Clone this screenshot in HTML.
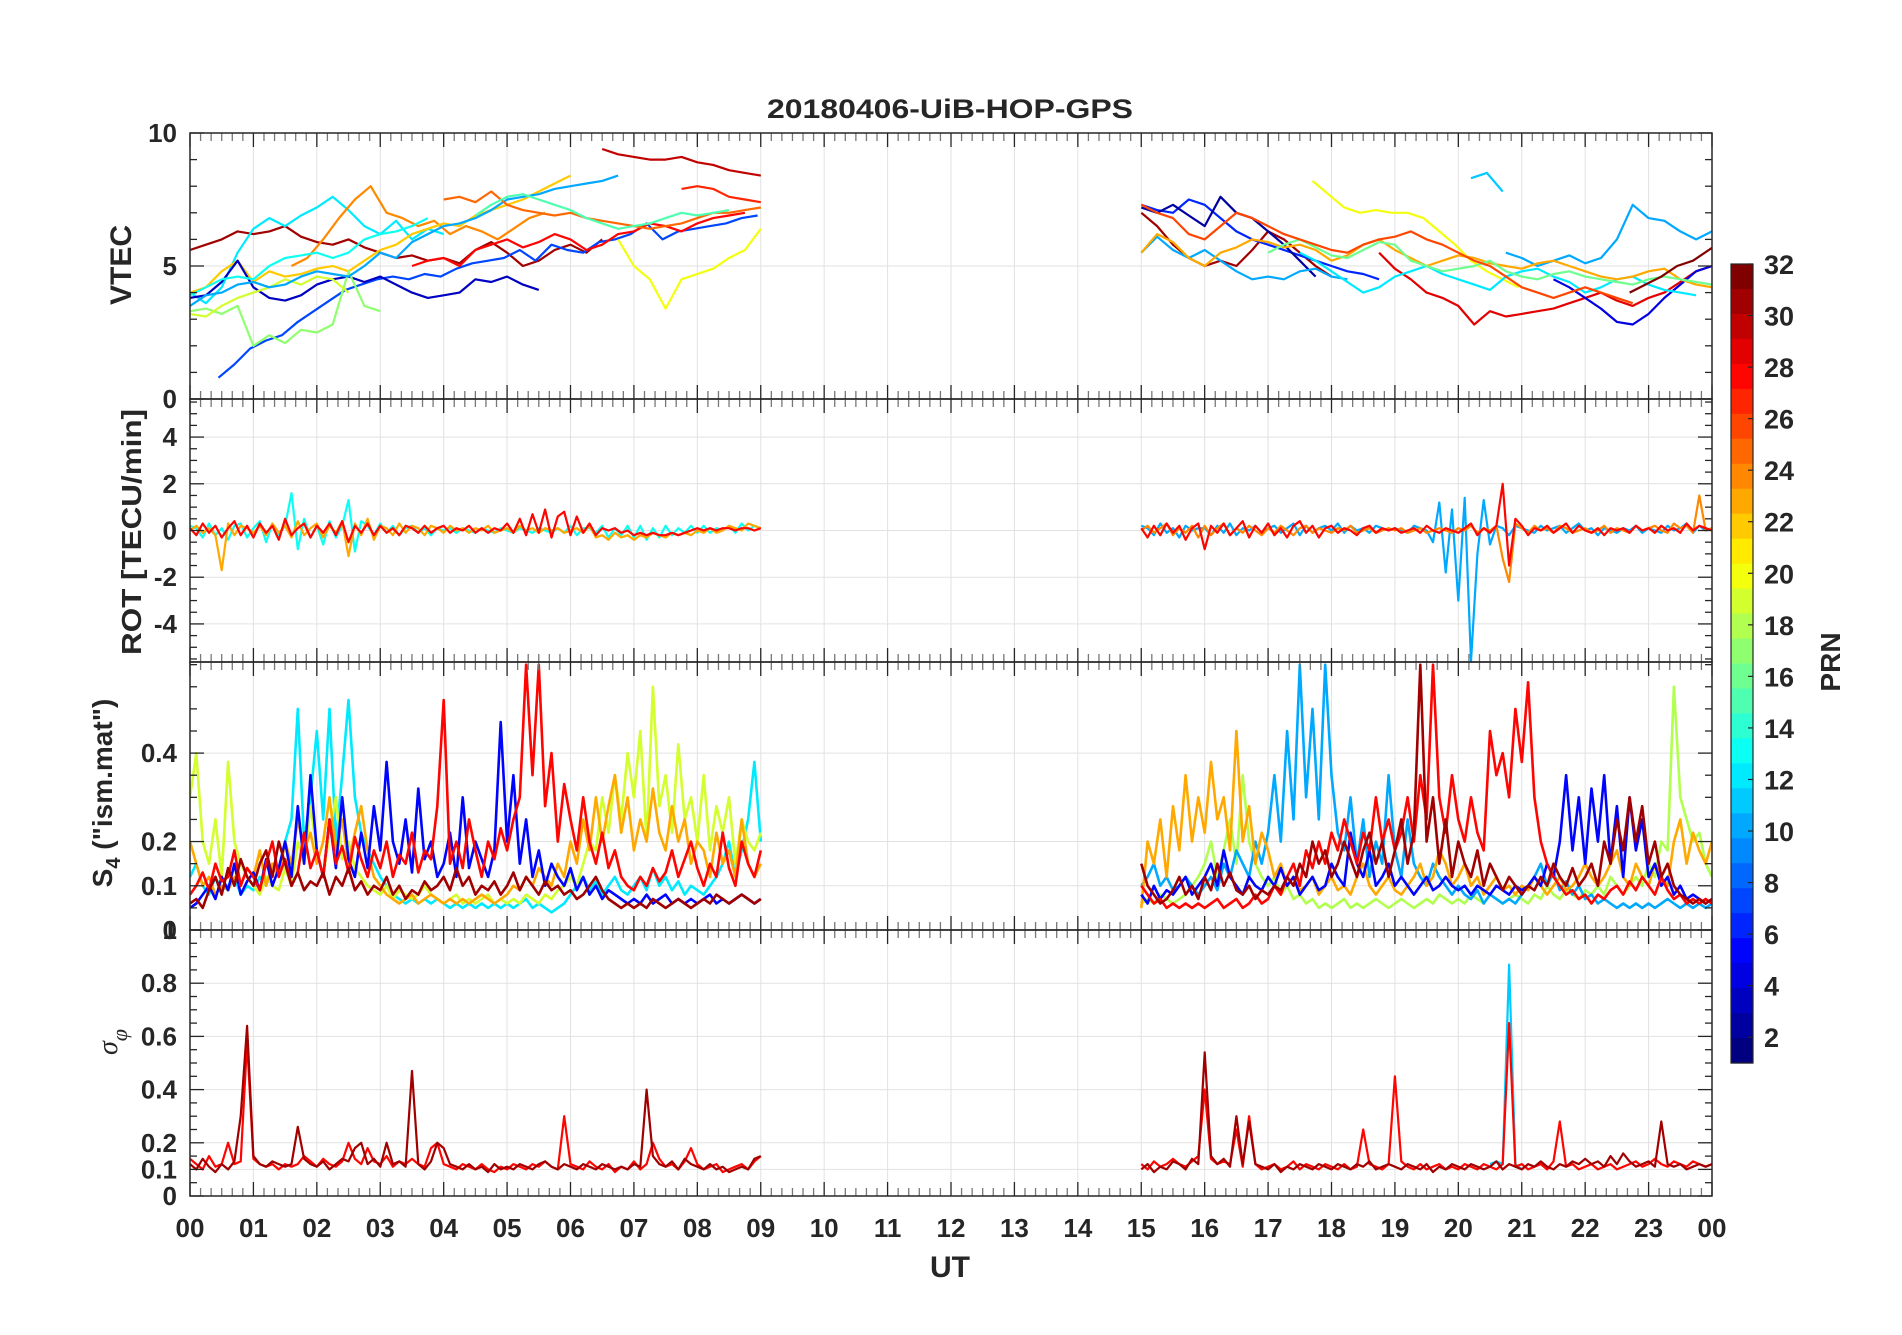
<!DOCTYPE html>
<html><head><meta charset="utf-8"><style>
body{margin:0;background:#fff}
svg text{font-family:"Liberation Sans",Arial,sans-serif;fill:#262626}
</style></head><body>
<svg id="fig" width="1902" height="1330" viewBox="0 0 1902 1330" xmlns="http://www.w3.org/2000/svg">
<rect width="1902" height="1330" fill="#fff"/>
<text x="950" y="118" text-anchor="middle" font-size="27" font-weight="bold" textLength="366" lengthAdjust="spacingAndGlyphs">20180406-UiB-HOP-GPS</text>
<g id="axes"></g>
<g id="marks"></g>
<g id="frames"></g>
<text transform="translate(131,265) rotate(-90)" text-anchor="middle" font-size="30" font-weight="bold">VTEC</text>
<text transform="translate(141,532) rotate(-90)" text-anchor="middle" font-size="28" font-weight="bold" textLength="246" lengthAdjust="spacingAndGlyphs">ROT [TECU/min]</text>
<text transform="translate(112,793) rotate(-90)" text-anchor="middle" font-size="28" font-weight="bold">S<tspan font-size="20" dy="8">4</tspan><tspan dy="-8"> ("ism.mat")</tspan></text>
<text transform="translate(117,1042) rotate(-90)" text-anchor="middle" font-size="28" font-style="italic" style="font-family:'Liberation Serif',serif">σ<tspan font-size="22" dy="10">φ</tspan></text>
<text x="950" y="1277" text-anchor="middle" font-size="30" font-weight="bold">UT</text>
<g id="cbar"></g>
<text transform="translate(1840,662) rotate(-90)" text-anchor="middle" font-size="28" font-weight="bold">PRN</text>
</svg>
<script>
// ---------- data ----------
const xTickLabels = ["00","01","02","03","04","05","06","07","08","09","10","11","12","13","14","15","16","17","18","19","20","21","22","23","00"];
const vtecTicks = [0,5,10];
const rotTicks = [-4,-2,0,2,4];
const s4Ticks = [0,0.1,0.2,0.4];
const sigTicks = [0,0.1,0.2,0.4,0.6,0.8,1];
const sigTickLabels = ["0","0.1","0.2","0.4","0.6","0.8","1"];
const prnTicks = [2,4,6,8,10,12,14,16,18,20,22,24,26,28,30,32];

const vtecDt = 0.25;
const vtecPrn = [31,12,24,22,7,3,17,19,10,20,28,30,27,25,15,13, 31,6,2,10,20,29,11,10,4,12,23,16,26,32];
const vtecStart = [0,0,1.6,0,0.45,0,0,0,0,6.75,3.5,6.5,7.75,4,4.5,0, 15,15,15,15,17.7,18.75,20.2,20.75,21.5,17.5,15,17,15,22.7];
const vtecVals = [
[5.6,5.8,6.0,6.3,6.2,6.3,6.5,6.1,5.9,5.8,6.0,5.7,5.5,5.3,5.4,5.2,5.3,5.1,5.6,5.9,5.5,5.0,5.2,5.6,5.8,5.5,6.0],
[4.0,3.6,4.2,5.5,6.4,6.8,6.5,6.9,7.2,7.6,7.1,6.5,6.2,6.7,6.0,6.4,6.2],
[5.0,5.3,6.0,6.8,7.5,8.0,7.0,6.8,6.5,6.7,6.2,6.5,6.3,6.0,6.4,6.8,7.0],
[4.0,4.2,4.8,5.2,4.4,4.8,4.6,4.7,4.9,5.0,4.8,5.2,5.6,5.8,6.2,6.4,6.6,6.5,6.9,7.1,7.3,7.5,7.8,8.1,8.4],
[0.8,1.3,1.9,2.2,2.4,2.9,3.3,3.7,4.1,4.3,4.5,4.6,4.5,4.7,4.6,4.9,5.1,5.2,5.3,5.6,5.2,5.8,5.6,5.5,5.9,6.0,6.2,6.6,6.0,6.3,6.4,6.5,6.6,6.8,6.9],
[3.8,3.9,4.4,5.2,4.2,3.8,3.7,3.9,4.3,4.5,4.6,4.4,4.6,4.3,4.0,3.8,3.9,4.0,4.5,4.4,4.6,4.3,4.1],
[3.3,3.4,3.2,3.5,2.0,2.4,2.1,2.6,2.5,2.8,4.8,3.5,3.3],
[3.2,3.1,3.5,3.8,4.0,4.2,4.5,4.3,4.6,4.5,4.0],
[3.5,3.9,4.0,4.3,4.4,4.2,4.3,4.6,4.8,4.7,4.6,5.0,5.5,5.3,5.9,6.2,6.5,6.6,6.8,7.1,7.5,7.6,7.7,7.9,8.0,8.1,8.2,8.4],
[6.0,5.0,4.5,3.4,4.5,4.7,4.9,5.3,5.6,6.4],
[5.0,5.2,5.3,5.0,5.6,5.8,6.0,5.7,5.9,6.2,6.0,5.6,5.8,6.2,6.3,6.6,6.5,6.3,6.6,6.8,6.9,7.0],
[9.4,9.2,9.1,9.0,9.0,9.1,8.9,8.8,8.6,8.5,8.4],
[7.9,8.0,7.9,7.6,7.5,7.4],
[7.5,7.6,7.4,7.8,7.3,7.1,7.0,6.9,7.0,6.8,6.7,6.6,6.5,6.4,6.5,6.6,6.8,7.0,7.0,7.1,7.2],
[6.9,7.3,7.6,7.7,7.5,7.3,7.1,6.8,6.6,6.4,6.5,6.6,6.8,7.0,6.9,7.0,7.1],
[3.9,4.2,4.5,4.6,4.5,5.0,5.3,5.4,5.5,5.3,5.5,6.0,6.2,6.3,6.5,6.8],
[7.0,6.5,5.8,5.3,5.0,5.2,5.0,5.6,6.3,6.0,5.5,5.0,4.6],
[7.3,7.1,7.0,7.5,7.3,6.8,6.3,6.0,5.8,5.6,5.4,5.2,5.0,4.8,4.7,4.5],
[7.2,7.0,7.3,6.9,6.5,7.6,7.0,6.8,6.3,5.8,5.2,4.6],
[5.5,6.1,5.6,5.3,5.6,5.2,4.8,4.5,4.6,4.5,4.8,4.9,4.6,4.5],
[8.2,7.7,7.2,7.0,7.1,7.0,7.0,6.8,6.3,5.8,5.2,4.8,4.5,4.2],
[5.5,4.9,4.5,4.0,3.8,3.5,2.8,3.3,3.1,3.2,3.3,3.4,3.6,3.8,4.0,3.7,3.5,3.8,4.0,4.4,4.8,5.0,5.3,5.8,6.0],
[8.3,8.5,7.8],
[5.5,5.3,5.0,5.2,5.4,5.1,5.3,6.0,7.3,6.8,6.7,6.3,6.0,6.3,6.5],
[4.5,4.2,3.8,3.4,2.9,2.8,3.2,3.8,4.3,4.8,5.0],
[5.5,5.2,4.8,4.4,4.0,4.2,4.6,4.8,5.0,4.7,4.5,4.3,4.1,4.6,4.8,4.9,4.6,4.4,4.0,4.2,4.5,4.6,4.3,4.1,4.0,3.9],
[5.5,6.2,5.9,5.3,5.0,5.5,5.7,6.0,5.9,5.7,5.8,5.6,5.2,5.4,5.8,6.0,5.6,5.3,5.0,5.2,5.4,5.3,5.1,5.0,4.9,5.1,5.2,5.0,4.8,4.6,4.5,4.6,4.8,4.9,4.5,4.3,4.2],
[5.5,5.8,6.0,5.7,5.4,5.3,5.6,5.9,5.8,5.2,5.0,4.8,4.9,5.0,5.2,4.8,4.6,4.5,4.7,4.8,4.6,4.5,4.4,4.3,4.5,4.6,4.5,4.4,4.3],
[7.3,7.0,6.8,6.2,6.0,6.5,7.0,6.8,6.5,6.2,6.0,5.8,5.6,5.5,5.8,6.0,6.1,6.3,6.0,5.8,5.5,5.2,5.0,4.6,4.2,4.0,3.8,4.0,4.2,4.0,3.8,3.6],
[4.0,4.3,4.6,5.0,5.2,5.6,6.0,6.1]
];

const rotDt = 0.1;
const rotPrn = [13,23,28, 10,24,28];
const rotStart = [0,0,0, 15,15,15];
const rotVals = [
[0.2,0.1,-0.3,0.3,-0.2,0.1,-0.4,0.2,0.3,-0.3,0.1,0.4,-0.5,0.3,-0.2,0.2,1.6,-0.8,0.5,-0.3,0.2,-0.6,0.4,-0.3,0.2,1.3,-0.9,0.4,0.2,-0.2,0.3,-0.1,0.2,-0.2,0.1,0.2,-0.1,0.1,-0.2,0.1,0.0,0.1,-0.1,0.1,0.0,-0.1,0.1,0.0,-0.1,0.1,0.0,-0.1,0.1,0.0,-0.1,0.1,0.0,-0.1,0.1,-0.1,0.2,-0.2,0.1,0.1,-0.1,0.2,-0.3,0.1,-0.2,0.2,-0.3,0.2,-0.4,0.1,-0.3,0.2,-0.2,0.1,-0.1,0.2,-0.1,0.2,-0.1,0.1,0.0,0.2,-0.1,0.3,0.0,0.2,0.1],
[0.0,0.2,-0.1,0.1,-0.2,-1.7,0.3,-0.2,0.2,0.1,-0.1,0.2,-0.2,0.3,-0.1,0.2,-0.3,0.4,-0.2,0.1,0.3,-0.3,0.2,-0.1,0.4,-1.1,0.3,-0.2,0.5,-0.4,0.2,0.1,-0.2,0.3,-0.1,0.2,0.1,-0.2,0.2,0.1,-0.1,0.2,0.0,0.1,-0.1,0.1,0.0,0.2,-0.1,0.0,0.1,-0.1,0.2,0.0,0.1,-0.1,0.1,0.0,0.1,-0.1,0.0,0.1,-0.1,0.2,-0.3,-0.2,-0.4,-0.1,-0.3,-0.2,-0.4,-0.2,-0.3,-0.1,-0.2,-0.3,-0.1,-0.2,-0.1,-0.2,0.0,-0.1,0.1,-0.1,0.0,0.2,0.1,0.0,0.3,0.2,0.1],
[0.1,-0.2,0.3,-0.1,0.2,-0.3,0.1,0.4,-0.2,0.2,-0.3,0.3,-0.1,0.2,-0.4,0.5,-0.2,0.1,0.3,-0.3,0.2,-0.1,0.3,-0.2,0.4,-0.5,0.2,-0.1,0.3,-0.2,0.2,-0.1,0.1,-0.2,0.2,0.1,-0.1,0.2,-0.1,0.1,0.2,-0.1,0.1,0.0,0.2,-0.1,0.1,-0.1,0.1,0.0,0.3,-0.1,0.5,-0.2,0.7,-0.1,0.9,-0.3,0.6,0.8,-0.2,0.6,-0.1,0.3,-0.2,0.1,0.0,0.1,-0.1,0.0,-0.2,-0.1,-0.2,-0.1,-0.2,-0.2,-0.1,-0.2,-0.1,0.0,0.1,0.0,0.1,0.0,0.1,0.1,0.0,0.1,0.1,0.0,0.1],
[0.2,0.1,-0.2,0.3,-0.1,0.1,-0.3,0.2,0.0,0.1,0.1,-0.2,0.2,-0.1,0.3,-0.2,0.1,0.0,0.2,-0.1,0.1,0.2,-0.1,0.1,0.3,-0.2,0.2,-0.1,0.1,0.2,0.0,0.3,-0.1,0.2,0.0,0.1,-0.1,0.2,0.1,0.0,0.1,0.0,-0.1,0.2,0.1,0.0,-0.5,1.2,-1.8,0.9,-3.0,1.4,-5.6,-1.0,1.3,-0.6,0.2,0.1,-0.2,0.2,0.1,0.0,-0.1,0.2,0.0,0.1,0.2,-0.1,0.1,0.3,0.0,0.1,-0.2,0.1,0.0,-0.1,0.1,0.0,0.2,-0.1,0.1,0.0,-0.1,0.2,0.0,0.1,0.3,-0.1,0.2,0.0,0.1],
[0.0,0.2,-0.1,0.1,0.3,-0.2,0.1,-0.1,0.2,-0.3,0.2,-0.2,0.1,0.3,-0.2,0.1,-0.1,0.2,0.0,-0.2,0.1,-0.1,0.2,0.0,-0.2,0.1,0.2,-0.1,0.1,0.0,-0.1,0.1,0.0,0.2,-0.1,0.0,0.1,-0.1,0.0,0.1,0.0,0.1,-0.1,0.0,0.1,-0.1,0.0,0.1,0.0,-0.1,0.1,0.0,0.2,-0.1,0.1,0.0,0.2,-1.2,-2.2,0.3,0.1,-0.1,0.2,0.0,0.1,-0.1,0.2,0.1,-0.1,0.0,0.1,-0.1,0.0,0.2,-0.1,0.1,0.0,-0.1,0.2,0.0,0.1,0.2,0.0,-0.1,0.3,0.1,0.2,-0.1,1.5,0.0,0.1],
[0.1,-0.3,0.2,-0.2,0.3,-0.1,0.2,-0.4,0.1,0.3,-0.8,0.2,-0.1,0.3,-0.2,0.1,0.4,-0.3,0.2,-0.1,0.3,-0.2,0.1,-0.3,0.2,0.4,-0.1,0.2,-0.3,0.1,0.2,-0.1,0.1,0.0,-0.2,0.1,0.2,-0.1,0.1,0.0,0.1,-0.1,0.0,0.1,-0.1,0.2,0.0,-0.1,0.1,0.0,-0.1,0.1,0.3,-0.2,0.1,-0.1,0.2,2.0,-1.5,0.5,0.2,-0.2,0.1,0.0,0.2,-0.1,0.1,0.3,-0.1,0.2,0.0,-0.1,0.1,-0.2,0.1,0.0,0.1,-0.1,0.2,0.0,0.1,-0.1,0.2,0.0,0.1,-0.1,0.3,0.0,0.2,0.1,0.0]
];

const s4Dt = 0.1;
const s4Prn = [12,19,23,5,28,31, 18,10,23,5,28,31];
const s4Start = [0,0,0,0,0,0, 15,15,15,15,15,15];
const s4Vals = [
[0.12,0.15,0.1,0.08,0.12,0.09,0.1,0.12,0.08,0.1,0.09,0.12,0.1,0.15,0.12,0.2,0.25,0.5,0.2,0.3,0.45,0.25,0.5,0.2,0.35,0.52,0.3,0.22,0.18,0.15,0.12,0.1,0.08,0.07,0.06,0.07,0.06,0.07,0.06,0.07,0.06,0.05,0.06,0.05,0.06,0.05,0.06,0.05,0.06,0.05,0.06,0.05,0.06,0.07,0.05,0.06,0.05,0.04,0.05,0.06,0.08,0.1,0.12,0.09,0.11,0.08,0.1,0.12,0.09,0.08,0.1,0.12,0.09,0.14,0.1,0.12,0.09,0.11,0.08,0.1,0.09,0.08,0.1,0.12,0.15,0.2,0.12,0.18,0.25,0.38,0.2],
[0.3,0.4,0.2,0.15,0.25,0.12,0.38,0.2,0.15,0.12,0.1,0.08,0.12,0.1,0.09,0.14,0.1,0.2,0.15,0.28,0.18,0.12,0.22,0.3,0.16,0.2,0.14,0.12,0.1,0.09,0.08,0.1,0.07,0.09,0.08,0.07,0.08,0.1,0.08,0.07,0.06,0.07,0.08,0.06,0.07,0.06,0.07,0.08,0.06,0.07,0.06,0.07,0.06,0.08,0.07,0.06,0.08,0.07,0.09,0.1,0.12,0.1,0.15,0.2,0.18,0.3,0.22,0.35,0.25,0.4,0.3,0.45,0.2,0.55,0.28,0.35,0.22,0.42,0.25,0.3,0.2,0.35,0.18,0.28,0.22,0.3,0.15,0.25,0.2,0.18,0.22],
[0.2,0.15,0.1,0.12,0.08,0.1,0.09,0.12,0.1,0.14,0.12,0.18,0.1,0.15,0.12,0.2,0.15,0.25,0.18,0.22,0.15,0.2,0.3,0.18,0.25,0.15,0.22,0.28,0.18,0.12,0.1,0.08,0.07,0.06,0.07,0.08,0.06,0.07,0.08,0.07,0.06,0.07,0.06,0.07,0.06,0.07,0.08,0.07,0.06,0.07,0.08,0.1,0.09,0.12,0.1,0.14,0.12,0.1,0.15,0.12,0.2,0.15,0.25,0.18,0.3,0.2,0.28,0.35,0.22,0.3,0.18,0.25,0.2,0.32,0.22,0.18,0.28,0.2,0.25,0.15,0.2,0.18,0.12,0.22,0.15,0.18,0.12,0.25,0.15,0.12,0.15],
[0.05,0.06,0.08,0.1,0.07,0.12,0.09,0.15,0.08,0.11,0.13,0.09,0.16,0.1,0.14,0.2,0.12,0.28,0.15,0.35,0.18,0.12,0.25,0.14,0.3,0.16,0.12,0.22,0.14,0.28,0.18,0.38,0.2,0.15,0.25,0.13,0.32,0.16,0.2,0.12,0.15,0.22,0.12,0.3,0.14,0.2,0.16,0.12,0.18,0.47,0.2,0.35,0.15,0.25,0.12,0.18,0.1,0.15,0.12,0.1,0.14,0.09,0.12,0.08,0.1,0.07,0.09,0.08,0.07,0.06,0.07,0.06,0.08,0.06,0.07,0.08,0.06,0.07,0.06,0.07,0.06,0.07,0.08,0.06,0.07,0.06,0.07,0.08,0.07,0.06,0.07],
[0.08,0.1,0.13,0.09,0.15,0.11,0.12,0.18,0.1,0.14,0.12,0.09,0.15,0.2,0.12,0.16,0.1,0.13,0.22,0.14,0.18,0.12,0.25,0.15,0.19,0.13,0.21,0.16,0.12,0.18,0.14,0.2,0.12,0.17,0.15,0.22,0.13,0.18,0.16,0.28,0.52,0.15,0.2,0.14,0.25,0.18,0.12,0.2,0.16,0.23,0.18,0.25,0.3,0.6,0.35,0.6,0.28,0.4,0.2,0.33,0.25,0.18,0.3,0.2,0.15,0.22,0.14,0.18,0.12,0.1,0.09,0.12,0.1,0.14,0.11,0.13,0.18,0.12,0.16,0.2,0.14,0.1,0.15,0.12,0.22,0.14,0.1,0.2,0.15,0.12,0.18],
[0.06,0.07,0.05,0.09,0.12,0.08,0.14,0.1,0.16,0.12,0.1,0.15,0.18,0.12,0.2,0.15,0.1,0.13,0.09,0.11,0.1,0.13,0.08,0.12,0.1,0.14,0.09,0.11,0.08,0.1,0.09,0.12,0.08,0.1,0.07,0.09,0.08,0.11,0.09,0.1,0.12,0.09,0.14,0.1,0.12,0.08,0.1,0.09,0.11,0.08,0.1,0.13,0.09,0.12,0.1,0.08,0.11,0.09,0.1,0.08,0.09,0.07,0.08,0.1,0.12,0.09,0.07,0.06,0.05,0.06,0.05,0.06,0.05,0.07,0.06,0.05,0.06,0.07,0.06,0.05,0.06,0.07,0.06,0.08,0.07,0.06,0.07,0.08,0.07,0.06,0.07],
[0.06,0.07,0.06,0.08,0.07,0.06,0.07,0.08,0.1,0.12,0.15,0.2,0.12,0.18,0.25,0.15,0.35,0.2,0.15,0.12,0.1,0.12,0.08,0.1,0.07,0.08,0.06,0.07,0.05,0.06,0.05,0.06,0.07,0.05,0.06,0.05,0.06,0.07,0.06,0.05,0.06,0.07,0.06,0.05,0.06,0.07,0.06,0.08,0.07,0.06,0.07,0.06,0.08,0.07,0.06,0.08,0.07,0.06,0.07,0.08,0.07,0.06,0.08,0.07,0.1,0.08,0.07,0.09,0.08,0.07,0.09,0.08,0.1,0.08,0.12,0.1,0.08,0.1,0.12,0.1,0.15,0.12,0.2,0.18,0.55,0.3,0.25,0.2,0.22,0.15,0.12],
[0.1,0.12,0.15,0.1,0.12,0.09,0.1,0.12,0.1,0.08,0.1,0.12,0.09,0.15,0.12,0.18,0.15,0.12,0.2,0.15,0.22,0.35,0.2,0.45,0.25,0.6,0.3,0.5,0.25,0.6,0.35,0.22,0.18,0.3,0.15,0.25,0.12,0.2,0.15,0.35,0.18,0.12,0.25,0.15,0.12,0.1,0.15,0.12,0.1,0.08,0.1,0.08,0.07,0.09,0.06,0.08,0.07,0.06,0.07,0.06,0.08,0.1,0.12,0.15,0.1,0.13,0.09,0.11,0.08,0.1,0.07,0.08,0.06,0.07,0.06,0.05,0.06,0.05,0.06,0.05,0.06,0.05,0.06,0.07,0.06,0.05,0.06,0.05,0.06,0.05,0.06],
[0.05,0.2,0.15,0.25,0.12,0.28,0.18,0.35,0.2,0.3,0.22,0.38,0.25,0.3,0.18,0.45,0.2,0.28,0.15,0.22,0.18,0.12,0.15,0.1,0.12,0.09,0.1,0.12,0.08,0.1,0.12,0.09,0.1,0.08,0.12,0.15,0.1,0.08,0.1,0.12,0.09,0.08,0.1,0.12,0.15,0.1,0.12,0.18,0.15,0.1,0.12,0.15,0.1,0.12,0.08,0.1,0.12,0.09,0.1,0.08,0.1,0.09,0.12,0.1,0.08,0.1,0.12,0.09,0.1,0.12,0.15,0.12,0.1,0.12,0.15,0.18,0.12,0.1,0.15,0.12,0.1,0.15,0.12,0.1,0.2,0.25,0.15,0.22,0.18,0.15,0.2],
[0.08,0.06,0.1,0.07,0.09,0.08,0.1,0.12,0.08,0.1,0.12,0.15,0.1,0.18,0.12,0.1,0.08,0.12,0.1,0.09,0.12,0.1,0.14,0.1,0.12,0.08,0.1,0.12,0.09,0.1,0.15,0.12,0.1,0.22,0.15,0.12,0.18,0.1,0.12,0.15,0.1,0.12,0.1,0.08,0.1,0.12,0.09,0.1,0.12,0.1,0.09,0.1,0.08,0.1,0.09,0.08,0.1,0.09,0.08,0.1,0.09,0.1,0.12,0.1,0.15,0.12,0.2,0.35,0.18,0.3,0.15,0.32,0.2,0.35,0.15,0.28,0.12,0.3,0.18,0.25,0.12,0.15,0.1,0.12,0.08,0.1,0.07,0.08,0.07,0.06,0.07],
[0.1,0.08,0.06,0.07,0.05,0.06,0.05,0.06,0.05,0.06,0.05,0.06,0.07,0.05,0.06,0.07,0.05,0.06,0.08,0.06,0.07,0.1,0.08,0.12,0.15,0.1,0.18,0.14,0.2,0.15,0.22,0.18,0.25,0.2,0.15,0.22,0.18,0.3,0.2,0.25,0.18,0.22,0.3,0.2,0.35,0.25,0.6,0.3,0.22,0.35,0.25,0.2,0.3,0.22,0.18,0.45,0.35,0.4,0.3,0.5,0.38,0.56,0.3,0.2,0.15,0.12,0.1,0.08,0.09,0.07,0.08,0.06,0.08,0.07,0.09,0.1,0.08,0.11,0.09,0.12,0.1,0.08,0.12,0.09,0.07,0.08,0.06,0.07,0.06,0.07,0.06],
[0.15,0.1,0.08,0.06,0.07,0.09,0.12,0.08,0.1,0.07,0.12,0.09,0.15,0.1,0.13,0.09,0.08,0.1,0.07,0.09,0.08,0.1,0.09,0.12,0.1,0.15,0.12,0.2,0.15,0.18,0.12,0.15,0.2,0.16,0.12,0.18,0.22,0.15,0.2,0.12,0.18,0.25,0.15,0.22,0.6,0.2,0.3,0.15,0.25,0.12,0.2,0.15,0.12,0.18,0.1,0.15,0.12,0.09,0.12,0.1,0.08,0.1,0.09,0.12,0.1,0.15,0.12,0.1,0.14,0.1,0.12,0.15,0.1,0.2,0.15,0.25,0.18,0.3,0.2,0.28,0.15,0.2,0.12,0.15,0.1,0.08,0.07,0.06,0.07,0.06,0.07]
];

const sigDt = 0.1;
const sigPrn = [28,31, 11,28,31];
const sigStart = [0,0, 20.5,15,15];
const sigVals = [
[0.14,0.12,0.1,0.15,0.11,0.12,0.2,0.12,0.13,0.58,0.14,0.12,0.11,0.12,0.1,0.12,0.11,0.12,0.15,0.13,0.11,0.14,0.12,0.11,0.13,0.2,0.14,0.12,0.18,0.13,0.12,0.15,0.11,0.13,0.12,0.14,0.12,0.11,0.18,0.2,0.12,0.11,0.1,0.12,0.11,0.1,0.12,0.1,0.09,0.11,0.1,0.12,0.11,0.1,0.12,0.11,0.13,0.11,0.1,0.3,0.12,0.11,0.1,0.13,0.11,0.1,0.12,0.09,0.11,0.1,0.13,0.1,0.12,0.2,0.14,0.11,0.12,0.1,0.13,0.18,0.12,0.1,0.11,0.12,0.09,0.1,0.11,0.12,0.1,0.13,0.15],
[0.12,0.1,0.14,0.11,0.09,0.12,0.1,0.13,0.3,0.64,0.15,0.12,0.11,0.13,0.12,0.11,0.12,0.26,0.14,0.12,0.11,0.13,0.1,0.12,0.14,0.13,0.18,0.2,0.12,0.14,0.11,0.2,0.12,0.13,0.11,0.47,0.12,0.1,0.13,0.2,0.18,0.12,0.11,0.1,0.12,0.1,0.11,0.09,0.12,0.1,0.11,0.1,0.12,0.11,0.1,0.12,0.13,0.11,0.1,0.12,0.11,0.1,0.12,0.11,0.1,0.12,0.11,0.1,0.11,0.1,0.12,0.11,0.4,0.15,0.12,0.11,0.13,0.1,0.14,0.12,0.11,0.1,0.12,0.1,0.11,0.09,0.1,0.11,0.1,0.14,0.15],
[0.12,0.13,0.12,0.87,0.12,0.1],
[0.12,0.1,0.13,0.11,0.12,0.14,0.12,0.11,0.13,0.15,0.4,0.14,0.12,0.13,0.12,0.25,0.11,0.3,0.12,0.1,0.11,0.12,0.1,0.11,0.13,0.1,0.12,0.11,0.1,0.12,0.11,0.1,0.12,0.1,0.11,0.25,0.12,0.11,0.1,0.12,0.45,0.13,0.11,0.1,0.12,0.1,0.11,0.12,0.1,0.11,0.1,0.12,0.11,0.1,0.12,0.11,0.1,0.12,0.65,0.11,0.12,0.1,0.11,0.12,0.1,0.13,0.28,0.11,0.12,0.1,0.11,0.12,0.1,0.11,0.12,0.1,0.11,0.12,0.13,0.11,0.12,0.14,0.12,0.11,0.13,0.12,0.11,0.13,0.12,0.11,0.12],
[0.1,0.12,0.09,0.11,0.1,0.13,0.12,0.1,0.14,0.12,0.54,0.15,0.12,0.14,0.11,0.3,0.12,0.28,0.12,0.11,0.1,0.12,0.09,0.11,0.1,0.12,0.11,0.1,0.12,0.11,0.1,0.12,0.11,0.1,0.12,0.11,0.13,0.1,0.11,0.12,0.11,0.1,0.12,0.11,0.1,0.12,0.09,0.11,0.1,0.12,0.11,0.1,0.12,0.11,0.1,0.11,0.13,0.1,0.12,0.11,0.1,0.12,0.11,0.13,0.11,0.1,0.12,0.11,0.13,0.12,0.14,0.12,0.13,0.11,0.15,0.12,0.16,0.13,0.11,0.12,0.13,0.11,0.28,0.12,0.11,0.12,0.1,0.11,0.12,0.11,0.12]
];

// ---------- layout ----------
const NS = "http://www.w3.org/2000/svg";
const X0 = 190, X1 = 1712;
const xs = t => X0 + t * (X1 - X0) / 24;
const panels = [
  {name:"vtec", top:133, bot:399, min:0, max:10, ticks:vtecTicks, labels:vtecTicks.map(String), minor:1, lw:2.2},
  {name:"rot", top:399, bot:662, min:-5.63, max:5.63, ticks:rotTicks, labels:rotTicks.map(String), minor:0.5, lw:2.2},
  {name:"s4", top:662, bot:930, min:0, max:0.606, ticks:s4Ticks, labels:["0","0.1","0.2","0.4"], minor:0.05, lw:2.6},
  {name:"sigma", top:930, bot:1196, min:0, max:1, ticks:sigTicks, labels:sigTickLabels, minor:0.05, lw:2.2}
];
panels.forEach(p => p.y = v => p.bot - (v - p.min) / (p.max - p.min) * (p.bot - p.top));

function jet(prn){
  const v = (prn - 1) / 31;
  const c = x => Math.round(255 * Math.max(0, Math.min(1, x)));
  return `rgb(${c(1.5-Math.abs(4*v-3))},${c(1.5-Math.abs(4*v-2))},${c(1.5-Math.abs(4*v-1))})`;
}
function mk(tag, attrs, parent){
  const e = document.createElementNS(NS, tag);
  for (const k in attrs) e.setAttribute(k, attrs[k]);
  parent.appendChild(e); return e;
}
const axes = document.getElementById("axes");
const marks = document.getElementById("marks");
const frames = document.getElementById("frames");
const defs = mk("defs", {}, document.getElementById("fig"));

panels.forEach((p, pi) => {
  const cp = mk("clipPath", {id:"clip-"+p.name}, defs);
  mk("rect", {x:X0, y:p.top, width:X1-X0, height:p.bot-p.top}, cp);
  for (let h = 1; h < 24; h++) {
    const gl = mk("line", {x1:xs(h), x2:xs(h), y1:p.top, y2:p.bot, stroke:"#e2e2e2", "stroke-width":1}, axes);
    
    
  }
  p.ticks.forEach((v, i) => {
    const yy = p.y(v);
    if (yy > p.top + 1 && yy < p.bot - 1) {
      const g = mk("line", {x1:X0, x2:X1, y1:yy, y2:yy, stroke:"#e2e2e2", "stroke-width":1}, axes);
      
      
    }
    const t = mk("text", {x:177, y:yy+9, "text-anchor":"end", "font-size":26, "font-weight":"bold"}, frames);
    t.textContent = p.labels[i];
    
    
  });
  for (let v = Math.ceil(p.min / p.minor) * p.minor; v <= p.max + 1e-9; v += p.minor) {
    const yy = p.y(v);
    const major = p.ticks.some(t => Math.abs(t - v) < 1e-6);
    const L = major ? 14 : 7;
    mk("line", {x1:X0, x2:X0+L, y1:yy, y2:yy, stroke:"#262626", "stroke-width":1.3}, frames);
    mk("line", {x1:X1-L, x2:X1, y1:yy, y2:yy, stroke:"#262626", "stroke-width":1.3}, frames);
  }
  for (let m = 0; m <= 24*6; m++) {
    const xx = xs(m/6), major = m % 6 === 0, L = major ? 14 : 8;
    mk("line", {x1:xx, x2:xx, y1:p.top, y2:p.top+L, stroke:major?"#262626":"#777", "stroke-width":1.3}, frames);
    mk("line", {x1:xx, x2:xx, y1:p.bot-L, y2:p.bot, stroke:major?"#262626":"#777", "stroke-width":1.3}, frames);
  }
  const fr = mk("rect", {x:X0, y:p.top, width:X1-X0, height:p.bot-p.top, fill:"none", stroke:"#262626", "stroke-width":1.5}, frames);
  
  
});

xTickLabels.forEach((lab, i) => {
  const t = mk("text", {x:xs(i), y:1237, "text-anchor":"middle", "font-size":26, "font-weight":"bold"}, frames);
  t.textContent = lab;
  
  
});

function drawSeries(p, prns, starts, vals, dt){
  const g = mk("g", {"clip-path":"url(#clip-"+p.name+")"}, marks);
  
  
  vals.forEach((arr, i) => {
    const pts = arr.map((v, k) => xs(starts[i] + k*dt).toFixed(1) + "," + p.y(v).toFixed(1)).join(" ");
    const pl = mk("polyline", {points:pts, fill:"none", stroke:jet(prns[i]), "stroke-width":p.lw, "stroke-linejoin":"round"}, g);
    
    
  });
}
drawSeries(panels[0], vtecPrn, vtecStart, vtecVals, vtecDt);
drawSeries(panels[1], rotPrn, rotStart, rotVals, rotDt);
drawSeries(panels[2], s4Prn, s4Start, s4Vals, s4Dt);
drawSeries(panels[3], sigPrn, sigStart, sigVals, sigDt);

// colorbar
const cb = document.getElementById("cbar");


const CB = {x:1731, w:22, top:264, bot:1063, min:1, max:32};
const cby = v => CB.bot - (v - CB.min) / (CB.max - CB.min) * (CB.bot - CB.top);
for (let k = 1; k <= 32; k++) {
  const y1 = CB.top + (k-1) * (CB.bot-CB.top)/32, y2 = CB.top + k*(CB.bot-CB.top)/32;
  mk("rect", {x:CB.x, y:y1, width:CB.w, height:y2-y1+0.6, fill:jet(33-k)}, cb);
}
mk("rect", {x:CB.x, y:CB.top, width:CB.w, height:CB.bot-CB.top, fill:"none", stroke:"#262626", "stroke-width":1.2}, cb);
prnTicks.forEach(v => {
  const yy = cby(v);
  mk("line", {x1:CB.x+CB.w-5, x2:CB.x+CB.w, y1:yy, y2:yy, stroke:"#262626", "stroke-width":1.2}, cb);
  const t = mk("text", {x:1764, y:yy+10, "font-size":27, "font-weight":"bold"}, cb);
  t.textContent = String(v);
  
  
});
</script>
</body></html>
